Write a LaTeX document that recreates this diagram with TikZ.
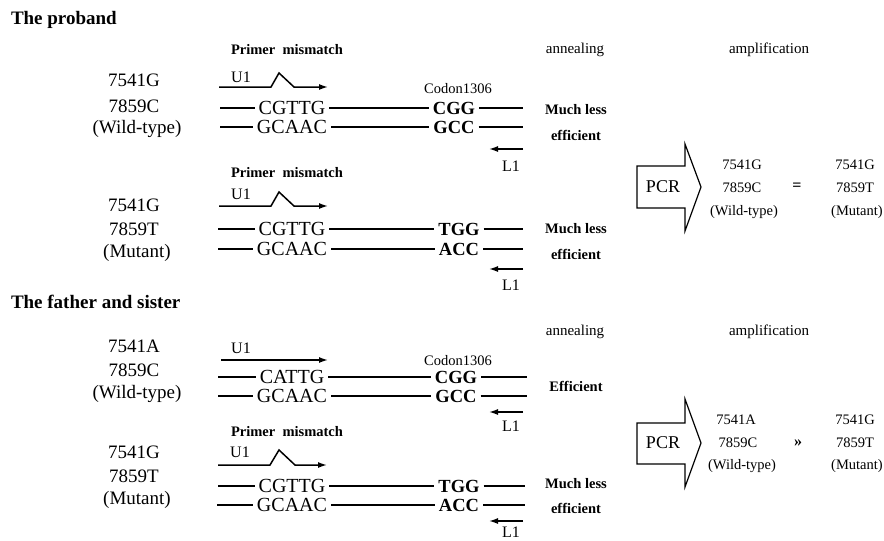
\documentclass[tikz,border=0pt]{standalone}
\usepackage{fontspec}
\setmainfont{Liberation Serif}
\usetikzlibrary{arrows.meta}
\begin{document}
\begin{tikzpicture}[x=1pt,y=-1pt,
  every node/.style={inner sep=0pt, outer sep=0pt},
  title/.style={font=\fontsize{19}{22}\selectfont\bfseries, anchor=west},
  allele/.style={font=\fontsize{19}{22}\selectfont},
  strand/.style={font=\fontsize{20}{22}\selectfont, inner xsep=4pt},
  codon/.style={font=\fontsize{18.5}{22}\selectfont\bfseries, inner xsep=4pt},
  note/.style={font=\fontsize{14.5}{17}\selectfont\bfseries},
  small/.style={font=\fontsize{14.5}{17}\selectfont},
  stage/.style={font=\fontsize{15}{18}\selectfont},
  primer/.style={font=\fontsize{16}{19}\selectfont},
  pcrtext/.style={font=\fontsize{18}{21}\selectfont},
  relation/.style={font=\fontsize{16}{19}\selectfont\bfseries},
  dna/.style={line width=1.4pt},
  primerline/.style={line width=1.5pt, -{Latex[length=9pt,width=6pt]}},
  pcrbox/.style={line width=1.2pt, line join=miter},
]
\useasboundingbox (0,0) rectangle (884,541);

% ---------------- The proband ----------------
\node[title] (t1) at (11,20) {The proband};
\node[stage] (an1) at (575,50) {annealing};
\node[stage] (am1) at (769,50) {amplification};

% wild-type template
\node[allele] (a1) at (134,80) {7541G};
\node[allele] (b1) at (134,106) {7859C};
\node[allele] (w1) at (137,129) {(Wild-type)};
\node[note] (pm1) at (287,50) {Primer\ \ mismatch};
\node[primer] (u1) at (241,77) {U1};
\coordinate (u1s) at (219,87);
\coordinate (u1e) at (328,87);
\draw[primerline] (u1s) -- (271,87) -- (279,73) -- (294,87) -- (u1e);
\node[small] (cd1) at (458,89) {Codon1306};
\coordinate (p1s) at (220,108);
\node[strand] (s1) at (292,108) {CGTTG};
\node[codon] (c1) at (454,108) {CGG};
\coordinate (p1e) at (523,108);
\draw[dna] (p1s) -- (s1) -- (c1) -- (p1e);
\coordinate (q1s) at (220,127);
\node[strand] (r1) at (292,127) {GCAAC};
\node[codon] (g1) at (454,127) {GCC};
\coordinate (q1e) at (523,127);
\draw[dna] (q1s) -- (r1) -- (g1) -- (q1e);
\coordinate (l1s) at (523,149);
\coordinate (l1e) at (489,149);
\draw[primerline] (l1s) -- (l1e);
\node[primer] (l1) at (511,166) {L1};
\node[note] (ml1) at (576,110) {Much less};
\node[note] (ef1) at (576,135) {efficient};

% mutant template
\node[allele] (a2) at (134,205) {7541G};
\node[allele] (b2) at (134,229) {7859T};
\node[allele] (w2) at (137,253) {(Mutant)};
\node[note] (pm2) at (287,173) {Primer\ \ mismatch};
\node[primer] (u2) at (241,194) {U1};
\coordinate (u2s) at (219,206);
\coordinate (u2e) at (328,206);
\draw[primerline] (u2s) -- (271,206) -- (279,192) -- (294,206) -- (u2e);
\coordinate (p2s) at (218,229);
\node[strand] (s2) at (292,229) {CGTTG};
\node[codon] (c2) at (459,229) {TGG};
\coordinate (p2e) at (523,229);
\draw[dna] (p2s) -- (s2) -- (c2) -- (p2e);
\coordinate (q2s) at (218,249);
\node[strand] (r2) at (292,249) {GCAAC};
\node[codon] (g2) at (459,249) {ACC};
\coordinate (q2e) at (523,249);
\draw[dna] (q2s) -- (r2) -- (g2) -- (q2e);
\coordinate (l2s) at (523,269);
\coordinate (l2e) at (489,269);
\draw[primerline] (l2s) -- (l2e);
\node[primer] (l2) at (511,285) {L1};
\node[note] (ml2) at (576,229) {Much less};
\node[note] (ef2) at (576,254) {efficient};

% amplification result
\draw[pcrbox] (637,166) -- (685,166) -- (685,144) -- (701,187)
  -- (685,231) -- (685,208) -- (637,208) -- cycle;
\node[pcrtext] (pcr1) at (663,187) {PCR};
\node[small] (x1) at (742,165) {7541G};
\node[small] (y1) at (742,188) {7859C};
\node[small] (z1) at (744,212) {(Wild-type)};
\node[relation] (eq1) at (797,187) {=};
\node[small] (x2) at (855,165) {7541G};
\node[small] (y2) at (855,188) {7859T};
\node[small] (z2) at (857,212) {(Mutant)};

% ---------------- The father and sister ----------------
\node[title] (t2) at (11,302) {The father and sister};
\node[stage] (an2) at (575,332) {annealing};
\node[stage] (am2) at (769,332) {amplification};

% wild-type template
\node[allele] (a3) at (134,346) {7541A};
\node[allele] (b3) at (134,370) {7859C};
\node[allele] (w3) at (137,394) {(Wild-type)};
\node[primer] (u3) at (241,348) {U1};
\coordinate (u3s) at (221,360);
\coordinate (u3e) at (328,360);
\draw[primerline] (u3s) -- (u3e);
\node[small] (cd3) at (458,361) {Codon1306};
\coordinate (p3s) at (218,377);
\node[strand] (s3) at (292,377) {CATTG};
\node[codon] (c3) at (456,377) {CGG};
\coordinate (p3e) at (527,377);
\draw[dna] (p3s) -- (s3) -- (c3) -- (p3e);
\coordinate (q3s) at (218,396);
\node[strand] (r3) at (292,396) {GCAAC};
\node[codon] (g3) at (456,396) {GCC};
\coordinate (q3e) at (527,396);
\draw[dna] (q3s) -- (r3) -- (g3) -- (q3e);
\coordinate (l3s) at (523,412);
\coordinate (l3e) at (489,412);
\draw[primerline] (l3s) -- (l3e);
\node[primer] (l3) at (511,426) {L1};
\node[note] (ef3) at (576,386) {Efficient};

% mutant template
\node[allele] (a4) at (134,452) {7541G};
\node[allele] (b4) at (134,476) {7859T};
\node[allele] (w4) at (137,500) {(Mutant)};
\node[note] (pm4) at (287,432) {Primer\ \ mismatch};
\node[primer] (u4) at (240,452) {U1};
\coordinate (u4s) at (218,465);
\coordinate (u4e) at (327,465);
\draw[primerline] (u4s) -- (270,465) -- (279,450) -- (295,465) -- (u4e);
\coordinate (p4s) at (218,486);
\node[strand] (s4) at (292,486) {CGTTG};
\node[codon] (c4) at (459,486) {TGG};
\coordinate (p4e) at (525,486);
\draw[dna] (p4s) -- (s4) -- (c4) -- (p4e);
\coordinate (q4s) at (217,505);
\node[strand] (r4) at (292,505) {GCAAC};
\node[codon] (g4) at (459,505) {ACC};
\coordinate (q4e) at (525,505);
\draw[dna] (q4s) -- (r4) -- (g4) -- (q4e);
\coordinate (l4s) at (523,521);
\coordinate (l4e) at (489,521);
\draw[primerline] (l4s) -- (l4e);
\node[primer] (l4) at (511,532) {L1};
\node[note] (ml4) at (576,484) {Much less};
\node[note] (ef4) at (576,508) {efficient};

% amplification result
\draw[pcrbox] (637,423) -- (685,423) -- (685,399) -- (701,443)
  -- (685,487) -- (685,464) -- (637,464) -- cycle;
\node[pcrtext] (pcr2) at (663,443) {PCR};
\node[small] (x3) at (736,420) {7541A};
\node[small] (y3) at (738,443) {7859C};
\node[small] (z3) at (742,466) {(Wild-type)};
\node[relation] (gg3) at (798,443) {»};
\node[small] (x4) at (855,420) {7541G};
\node[small] (y4) at (855,443) {7859T};
\node[small] (z4) at (857,466) {(Mutant)};
\end{tikzpicture}
\end{document}
